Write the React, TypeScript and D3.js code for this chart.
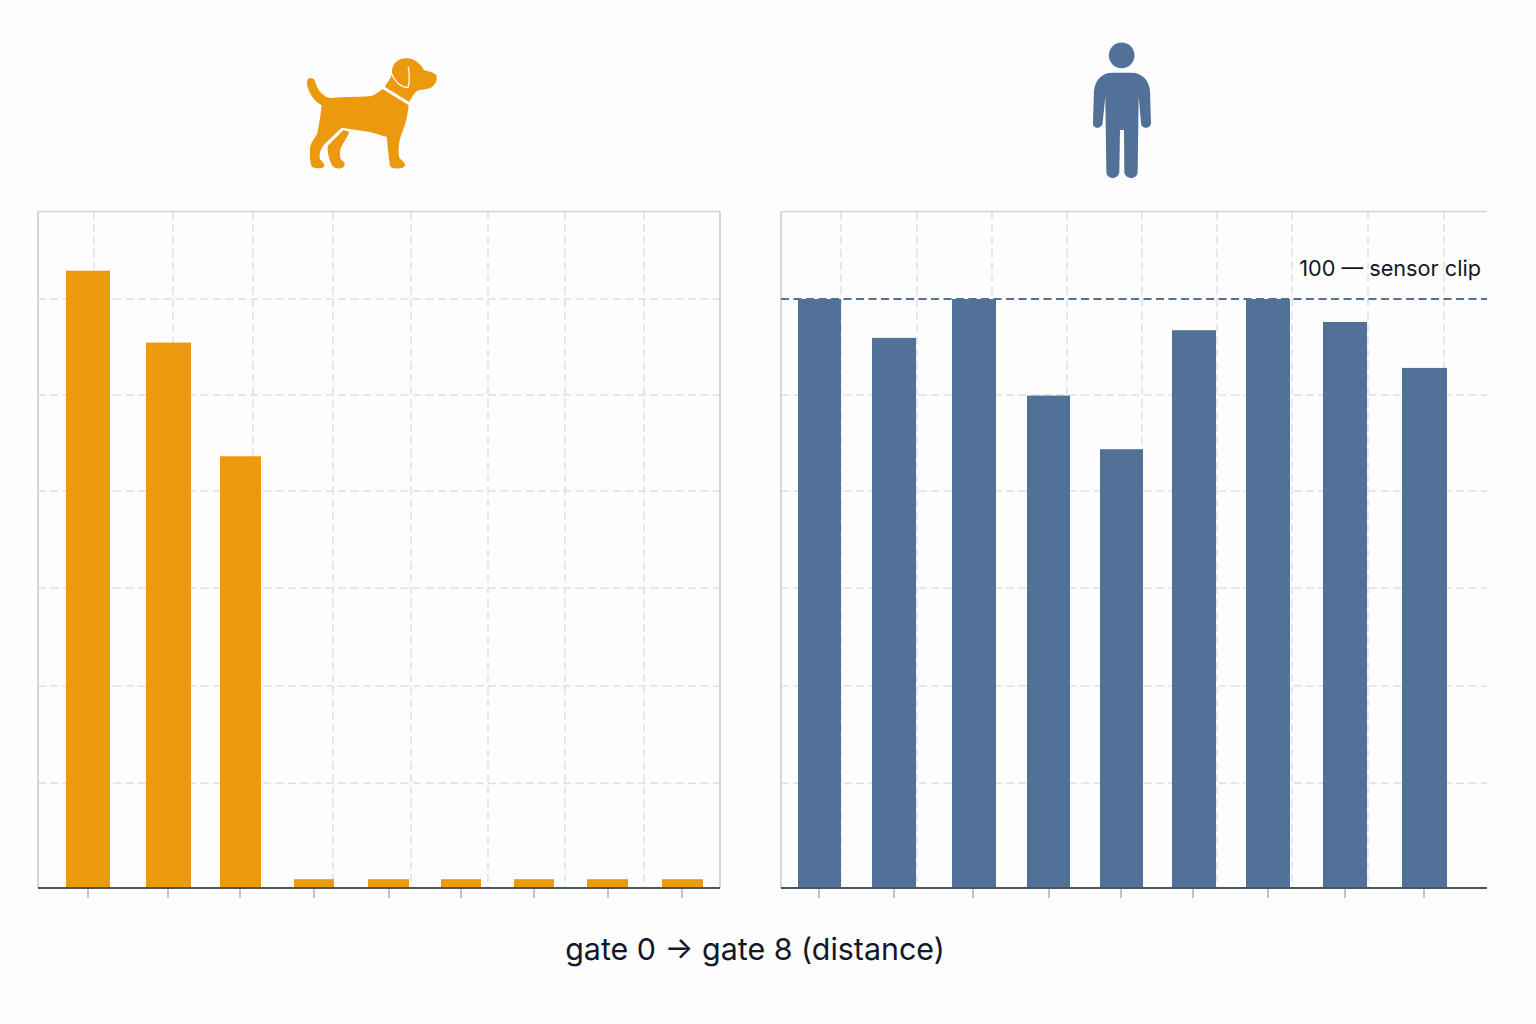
import React from "react";
import * as d3 from "d3";

const gates = ["0", "1", "2", "3", "4", "5", "6", "7", "8"];
const dogValues = [104.8, 92.6, 73.3, 1.5, 1.5, 1.5, 1.5, 1.5, 1.5];
const humanValues = [100, 93.4, 100, 83.6, 74.5, 94.7, 100, 96.1, 88.3];
const gridValues = [17.8, 34.3, 50.9, 67.4, 83.7, 100];
const clipValue = 100;
const clipLabel = "100 — sensor clip";
const axisLabel = "gate 0 → gate 8 (distance)";

const ORANGE = "#ec990e";
const BLUE = "#527198";
const INK = "#111827";
const FONT = "Inter, 'Noto Sans', sans-serif";

const y = d3.scaleLinear().domain([0, 100]).range([888, 299]);

const left = {
  x0: 38, x1: 720, top: 211.5,
  center: d3.scaleOrdinal<string, number>(gates, [88, 168.5, 240.5, 314, 388.5, 461, 534, 607.5, 682.5]),
  width: d3.scaleOrdinal<string, number>(gates, [44, 45, 41, 40, 41, 40, 40, 41, 41]),
  tick: d3.scaleOrdinal<string, number>(gates, [88, 168, 240, 314, 389, 461, 534, 608, 682]),
  vgrid: [94, 173, 253, 333, 411, 488, 565, 644],
};
const right = {
  x0: 781, x1: 1487, top: 211.5,
  center: d3.scaleOrdinal<string, number>(gates, [819.5, 894, 974, 1048.5, 1121.5, 1194, 1268, 1345, 1424.5]),
  width: d3.scaleOrdinal<string, number>(gates, [43, 44, 44, 43, 43, 44, 44, 44, 45]),
  tick: d3.scaleOrdinal<string, number>(gates, [819, 894, 973, 1049, 1121, 1193, 1268, 1345, 1424]),
  vgrid: [841, 917, 992, 1067, 1142, 1217, 1292, 1368, 1444],
};

const DOG_BODY =
  "M62 114 C50 114 49 128 53 142 C60 166 76 186 95 196 C92 222 88 250 82 280 C74 296 62 306 60 325 C59 345 60 365 64 378 C70 387 97 387 102 380 C105 372 98 366 90 358 C86 340 92 326 106 310 L155 263 L240 276 C262 282 278 288 290 290 C293 320 296 350 300 378 C304 388 340 388 345 378 C347 368 336 362 328 354 C324 330 326 300 338 274 C348 248 354 220 356 196 L279 148 C270 148 262 166 238 169 C200 172 160 170 122 174 C100 172 84 150 76 128 C74 118 70 114 62 114 Z";
const DOG_HIND =
  "M160 270 L178 276 C170 295 158 310 152 325 C148 340 150 350 152 358 C160 364 168 370 162 380 C152 388 134 387 128 378 C118 362 112 340 113 318 Z";
const DOG_HEAD =
  "M358 186 L284 140 C294 125 306 110 306 95 C306 70 326 54 350 55 C375 56 392 72 402 90 C414 94 432 96 439 106 C443 120 436 134 425 142 C410 150 394 148 382 152 C372 160 364 172 358 186 Z";
const DOG_EAR = "M304 100 C316 128 338 146 354 142 C360 124 358 100 355 82";

const PERSON_BODY =
  "M125 128 L185 128 C215 128 237 150 240 182 L243 278 C243 298 213 298 213 278 L206 200 L203 425 C203 450 165 450 163 425 L162 300 L150 300 L148 425 C146 450 110 450 109 425 L106 200 L98 278 C96 298 67 298 69 278 L72 182 C75 150 97 128 125 128 Z";

function Panel({ p, values, color, closedFrame }: any) {
  return (
    <g>
      {gridValues.map((v) => (
        <line key={v} x1={p.x0} x2={p.x1} y1={y(v)} y2={y(v)} stroke="#dfe0e4" strokeWidth={1.5} strokeDasharray="8 4.5" />
      ))}
      {p.vgrid.map((x: number) => (
        <line key={x} x1={x} x2={x} y1={p.top} y2={888} stroke="#dfe0e4" strokeWidth={1.5} strokeDasharray="8 4.5" />
      ))}
      <line x1={p.x0} x2={p.x1} y1={p.top} y2={p.top} stroke="#d3d4d8" strokeWidth={1.5} />
      <line x1={p.x0} x2={p.x0} y1={p.top} y2={888} stroke="#c6c8ce" strokeWidth={1.5} />
      {closedFrame && <line x1={p.x1} x2={p.x1} y1={p.top} y2={888} stroke="#c6c8ce" strokeWidth={1.5} />}
      {gates.map((g, i) => (
        <rect key={g} x={p.center(g) - p.width(g) / 2} width={p.width(g)} y={y(values[i])} height={y(0) - y(values[i])} fill={color} />
      ))}
      {gates.map((g) => (
        <line key={g} x1={p.tick(g)} x2={p.tick(g)} y1={888} y2={898} stroke="#a6acb8" strokeWidth={1.5} />
      ))}
      <line x1={p.x0} x2={p.x1} y1={888} y2={888} stroke="#4b5260" strokeWidth={2} />
    </g>
  );
}

export default function App() {
  return (
    <svg width={1536} height={1024} viewBox="0 0 1536 1024" style={{ position: "absolute", left: 0, top: 0, background: "#fdfdfd" }}>
      <Panel p={left} values={dogValues} color={ORANGE} closedFrame />
      <Panel p={right} values={humanValues} color={BLUE} closedFrame={false} />
      <line x1={right.x0} x2={right.x1} y1={y(clipValue)} y2={y(clipValue)} stroke={BLUE} strokeWidth={2} strokeDasharray="8 4.5" />
      <text x={1481} y={276} textAnchor="end" fontFamily={FONT} fontSize={21.7} fill={INK}>{clipLabel}</text>
      <text x={755} y={960} textAnchor="middle" fontFamily={FONT} fontSize={30.4} fill={INK}>{axisLabel}</text>

      <g transform="translate(290 40) scale(0.3333)">
        <path d={DOG_BODY} fill={ORANGE} />
        <path d={DOG_HIND} fill={ORANGE} />
        <path d={DOG_HEAD} fill={ORANGE} />
        <path d={DOG_EAR} fill="none" stroke="#fdfdfd" strokeWidth={4} strokeLinecap="round" />
      </g>
      <g transform="translate(1070 30) scale(0.3333)">
        <circle cx={155} cy={76} r={38.5} fill={BLUE} />
        <path d={PERSON_BODY} fill={BLUE} />
      </g>
    </svg>
  );
}
